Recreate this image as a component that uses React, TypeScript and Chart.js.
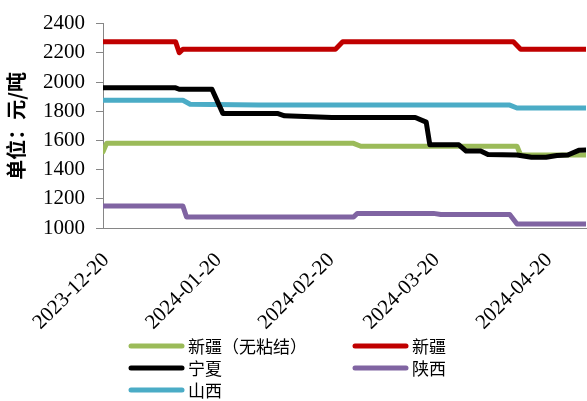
import { useEffect, useRef } from 'react';
import { Chart, registerables } from 'chart.js';

Chart.register(...registerables);

// Date range of the horizontal axis (daily, linear in time)
const startDate = '2023-12-20';
const endDate = '2024-05-01';
const xTickLabels = ['2023-12-20', '2024-01-20', '2024-02-20', '2024-03-20', '2024-04-20'];

// Vertical axis (元/吨)
const yMin = 1000;
const yMax = 2400;
const yStep = 200;
const yTitle = '单位：元/吨';

// 新疆（无粘结）
const xinjiangNoBondDates = ['2023-12-20', '2023-12-21', '2024-02-27', '2024-02-29', '2024-04-12', '2024-04-13', '2024-05-01'];
const xinjiangNoBondValues = [1522, 1580, 1580, 1560, 1560, 1500, 1500];

// 新疆
const xinjiangDates = ['2023-12-20', '2024-01-09', '2024-01-10', '2024-01-11', '2024-02-22', '2024-02-24', '2024-04-11', '2024-04-13', '2024-05-01'];
const xinjiangValues = [2275, 2275, 2200, 2225, 2225, 2275, 2275, 2225, 2225];

// 宁夏
const ningxiaDates = [
  '2023-12-20', '2024-01-09', '2024-01-10', '2024-01-19', '2024-01-22', '2024-02-06', '2024-02-08',
  '2024-02-21', '2024-03-15', '2024-03-18', '2024-03-19', '2024-03-27', '2024-03-29', '2024-04-02',
  '2024-04-04', '2024-04-12', '2024-04-16', '2024-04-20', '2024-04-23', '2024-04-26', '2024-04-29',
  '2024-05-01',
];
const ningxiaValues = [
  1960, 1960, 1950, 1950, 1785, 1785, 1768,
  1757, 1757, 1725, 1570, 1570, 1527, 1527,
  1503, 1500, 1484, 1484, 1496, 1500, 1532,
  1535,
];

// 陕西
const shaanxiDates = ['2023-12-20', '2024-01-11', '2024-01-12', '2024-02-27', '2024-02-28', '2024-03-20', '2024-03-22', '2024-04-10', '2024-04-12', '2024-05-01'];
const shaanxiValues = [1150, 1150, 1075, 1075, 1100, 1100, 1092, 1092, 1028, 1028];

// 山西
const shanxiDates = ['2023-12-20', '2024-01-11', '2024-01-13', '2024-02-01', '2024-04-10', '2024-04-12', '2024-05-01'];
const shanxiValues = [1875, 1875, 1848, 1842, 1842, 1822, 1822];

const seriesNames = ['新疆（无粘结）', '新疆', '宁夏', '陕西', '山西'];
const seriesColors = ['#9BBB59', '#C00000', '#000000', '#8064A2', '#4BACC6'];
const seriesDates = [xinjiangNoBondDates, xinjiangDates, ningxiaDates, shaanxiDates, shanxiDates];
const seriesValues = [xinjiangNoBondValues, xinjiangValues, ningxiaValues, shaanxiValues, shanxiValues];

const serif = '"Liberation Serif", "Times New Roman", serif';
const cjk = '"Noto Sans CJK SC", sans-serif';
const axisGray = '#868686';

const toPoints = (dates: string[], values: number[]) =>
  dates.map((d, i) => ({ x: Date.parse(d), y: values[i] }));

const formatDate = (ms: number) => new Date(ms).toISOString().slice(0, 10);

// Two-column legend below the axis labels
const gridLegend = {
  id: 'gridLegend',
  afterDraw(chart: any) {
    const { ctx } = chart;
    const colX = [128, 352];
    const rowY = [346, 368, 390];
    ctx.save();
    seriesNames.forEach((name, i) => {
      const x = colX[i % 2];
      const y = rowY[Math.floor(i / 2)];
      ctx.strokeStyle = seriesColors[i];
      ctx.lineWidth = 5;
      ctx.lineCap = 'round';
      ctx.beginPath();
      ctx.moveTo(x + 3, y);
      ctx.lineTo(x + 54, y);
      ctx.stroke();
      ctx.fillStyle = '#000';
      ctx.font = `17px ${cjk}`;
      ctx.textAlign = 'left';
      ctx.textBaseline = 'middle';
      ctx.fillText(name, x + 60, y + 1);
    });
    ctx.restore();
  },
};

export default function App() {
  const canvasRef = useRef<HTMLCanvasElement | null>(null);

  useEffect(() => {
    if (!canvasRef.current) return;
    const chart = new Chart(canvasRef.current, {
      type: 'line',
      data: {
        datasets: seriesNames.map((name, i) => ({
          label: name,
          data: toPoints(seriesDates[i], seriesValues[i]),
          borderColor: seriesColors[i],
          backgroundColor: seriesColors[i],
          borderWidth: 5,
          borderCapStyle: 'round',
          borderJoinStyle: 'round',
          pointRadius: 0,
          tension: 0,
          fill: false,
          order: name === '宁夏' ? 0 : 1,
        })),
      },
      options: {
        animation: false,
        responsive: false,
        layout: { padding: { top: 17, right: 1, left: 0, bottom: 0 } },
        plugins: {
          legend: { display: false },
          tooltip: { enabled: false },
        },
        scales: {
          x: {
            type: 'linear',
            min: Date.parse(startDate),
            max: Date.parse(endDate),
            afterBuildTicks: (scale: any) => {
              scale.ticks = xTickLabels.map((l) => ({ value: Date.parse(l) }));
            },
            afterFit: (scale: any) => {
              scale.height = 173;
            },
            grid: { display: false, drawTicks: false },
            border: { display: true, color: axisGray, width: 1 },
            ticks: {
              autoSkip: false,
              minRotation: 45,
              maxRotation: 45,
              padding: 20,
              labelOffset: 3,
              color: '#000',
              font: { family: serif, size: 21 },
              callback: (v: any) => formatDate(Number(v)),
            },
          },
          y: {
            min: yMin,
            max: yMax,
            afterFit: (scale: any) => {
              scale.width = 103;
            },
            grid: { drawOnChartArea: false, drawTicks: true, tickLength: 7, color: axisGray },
            border: { display: true, color: axisGray, width: 1 },
            ticks: {
              stepSize: yStep,
              padding: 11,
              color: '#000',
              font: { family: serif, size: 21 },
              callback: (v: any) => String(v),
            },
            title: {
              display: true,
              text: yTitle,
              color: '#000',
              font: { family: cjk, size: 20, weight: 'bold' },
              padding: { top: 4, bottom: 0 },
            },
          },
        },
      },
      plugins: [gridLegend],
    } as any);
    return () => chart.destroy();
  }, []);

  return (
    <div style={{ position: 'absolute', left: 0, top: 0, width: 587, height: 401, background: '#fff' }}>
      <canvas ref={canvasRef} width={587} height={401} style={{ display: 'block' }} />
    </div>
  );
}
